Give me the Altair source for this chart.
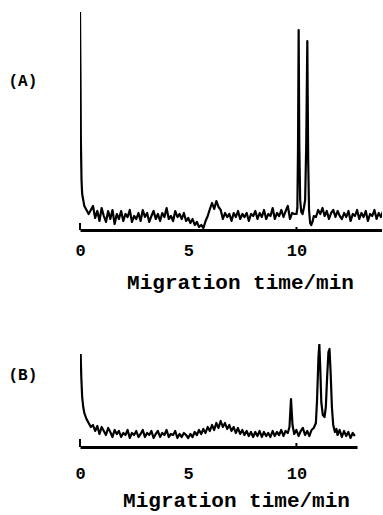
import altair as alt
import pandas as pd

FONT = "Liberation Mono"

# ---------------- Panel (A) ----------------
a_time = [0.0, 0.02, 0.04, 0.07, 0.1, 0.15, 0.2, 0.3, 0.4,
          0.5, 0.6, 0.7, 0.8, 0.9, 1.0, 1.1, 1.2, 1.3, 1.4, 1.5, 1.6, 1.7, 1.8, 1.9,
          2.0, 2.1, 2.2, 2.3, 2.4, 2.5, 2.6, 2.7, 2.8, 2.9, 3.0, 3.1, 3.2, 3.3, 3.4,
          3.5, 3.6, 3.7, 3.8, 3.9, 4.0, 4.1, 4.2, 4.3, 4.4, 4.5, 4.6, 4.7, 4.8, 4.9,
          5.0, 5.1, 5.2, 5.3, 5.4, 5.5, 5.6, 5.7, 5.8, 5.9, 6.0, 6.1, 6.2, 6.3, 6.4,
          6.5, 6.6, 6.7, 6.8, 6.9, 7.0, 7.1, 7.2, 7.3, 7.4, 7.5, 7.6, 7.7, 7.8, 7.9,
          8.0, 8.1, 8.2, 8.3, 8.4, 8.5, 8.6, 8.7, 8.8, 8.9, 9.0, 9.1, 9.2, 9.3, 9.4,
          9.5, 9.6, 9.7, 9.8, 9.9,
          10.0, 10.04, 10.07, 10.1, 10.13, 10.17, 10.22, 10.28, 10.34, 10.4, 10.45,
          10.5, 10.54, 10.58, 10.63, 10.68, 10.75, 10.8,
          10.9, 11.0, 11.1, 11.2, 11.3, 11.4, 11.5, 11.6, 11.7, 11.8, 11.9, 12.0,
          12.1, 12.2, 12.3, 12.4, 12.5, 12.6, 12.7, 12.8, 12.9, 13.0, 13.1, 13.2,
          13.3, 13.4, 13.5, 13.6, 13.7, 13.8, 13.9, 14.0]
a_signal = [218, 160, 90, 50, 36, 30, 24, 20, 16,
            20, 24, 12, 19, 9, 22, 14, 8, 19, 11, 20, 6, 16, 11, 19,
            9, 16, 13, 20, 8, 14, 11, 17, 9, 20, 13, 17, 8, 14, 19,
            11, 16, 9, 17, 13, 22, 11, 14, 9, 19, 13, 16, 11, 17, 9,
            12, 7, 11, 5, 8, 3, 5, 2, 9, 14, 21, 27, 21, 29, 23,
            20, 11, 17, 13, 16, 9, 17, 13, 19, 11, 16, 13, 17, 9, 16,
            14, 19, 11, 17, 13, 20, 11, 16, 14, 22, 11, 17, 14, 20, 13,
            19, 24, 11, 17, 16,
            16, 22, 80, 200, 85, 30, 18, 16, 22, 30, 85,
            189, 70, 20, 7, 5, 9, 14,
            13, 20, 16, 22, 14, 19, 11, 17, 20, 13, 19, 14,
            11, 17, 13, 19, 9, 16, 14, 20, 11, 17, 13, 19,
            9, 16, 14, 20, 11, 17, 13, 19]

a_tick_time = [0, 10]
a_tick_top = [7, 3]

# ---------------- Panel (B) ----------------
b_time = [0.03, 0.06, 0.1, 0.15, 0.2, 0.3, 0.4, 0.5, 0.6, 0.7,
          0.8, 0.9, 1.0, 1.1, 1.2, 1.3, 1.4, 1.5, 1.6, 1.7, 1.8, 1.9,
          2.0, 2.1, 2.2, 2.3, 2.4, 2.5, 2.6, 2.7, 2.8, 2.9, 3.0, 3.1, 3.2, 3.3, 3.4,
          3.5, 3.6, 3.7, 3.8, 3.9, 4.0, 4.1, 4.2, 4.3, 4.4, 4.5, 4.6, 4.7, 4.8, 4.9,
          5.0, 5.1, 5.2, 5.3, 5.4, 5.5, 5.6, 5.7, 5.8, 5.9, 6.0, 6.1, 6.2, 6.3, 6.4,
          6.5, 6.6, 6.7, 6.8, 6.9, 7.0, 7.1, 7.2, 7.3, 7.4, 7.5, 7.6, 7.7, 7.8, 7.9,
          8.0, 8.1, 8.2, 8.3, 8.4, 8.5, 8.6, 8.7, 8.8, 8.9, 9.0, 9.1, 9.2, 9.3, 9.4,
          9.5, 9.6, 9.68, 9.75, 9.82, 9.9, 10.0, 10.1, 10.2, 10.3, 10.4, 10.5, 10.6,
          10.7, 10.8, 10.9, 10.95, 11.02, 11.06, 11.1, 11.15, 11.22, 11.3, 11.36,
          11.42, 11.48, 11.53, 11.58, 11.64, 11.7, 11.78, 11.85, 11.9, 12.0, 12.1,
          12.2, 12.3, 12.4, 12.5, 12.6, 12.7]
b_signal = [93, 70, 50, 40, 34, 28, 24, 20, 22, 16,
            21, 13, 20, 16, 12, 19, 15, 10, 17, 13, 16, 10,
            14, 12, 17, 9, 14, 12, 16, 10, 13, 17, 10, 14, 12, 16, 9,
            13, 16, 10, 14, 12, 17, 10, 13, 12, 16, 9, 13, 10, 14, 12,
            9, 13, 10, 15, 12, 17, 13, 18, 14, 20, 16, 22, 17, 24, 19,
            26, 20, 24, 18, 22, 16, 20, 14, 19, 13, 17, 12, 16, 11, 15,
            10, 15, 11, 16, 10, 15, 11, 14, 10, 16, 11, 15, 12, 17, 11,
            16, 14, 20, 48, 22, 13, 17, 11, 16, 19, 12, 16, 11,
            17, 19, 24, 45, 90, 103, 80, 45, 32, 30, 40,
            70, 95, 98, 75, 40, 22, 15, 18, 12, 17, 10,
            16, 11, 15, 9, 14, 11]

b_tick_time = [0, 10]
b_tick_top = [8, 4]

tick_values = [0, 5, 10]
x_title = "Migration time/min"


def panel(times, signals, tick_t, tick_top, label, xmax, width, height, ymax,
          label_y, label_pad, title_x, title_y):
    df = pd.DataFrame({"time": times, "signal": signals})
    tdf = pd.DataFrame({"time": tick_t, "y0": [0] * len(tick_t), "y1": tick_top})
    xscale = alt.Scale(domain=[0, xmax], nice=False, zero=False)
    yscale = alt.Scale(domain=[0, ymax], nice=False, zero=True)
    xaxis = alt.Axis(
        values=tick_values, title=x_title, grid=False, ticks=False,
        domain=True, domainColor="black", domainWidth=3,
        labelFont=FONT, labelFontSize=17, labelFontWeight="bold",
        labelColor="black", labelPadding=label_pad, labelFlush=False,
        titleFont=FONT, titleFontSize=21, titleFontWeight="bold",
        titleColor="black", titleX=title_x, titleY=title_y,
        titleAlign="center", titleBaseline="alphabetic",
    )
    yaxis = alt.Axis(
        title=label, domain=False, ticks=False, labels=False, grid=False,
        titleAngle=0, titleAlign="left", titleBaseline="middle",
        titleX=-72, titleY=label_y, titleFont=FONT, titleFontSize=16,
        titleFontWeight="bold", titleColor="black",
    )
    line = alt.Chart(df).mark_line(
        color="black", strokeWidth=2.2, clip=True, strokeJoin="round"
    ).encode(
        x=alt.X("time:Q", scale=xscale, axis=xaxis),
        y=alt.Y("signal:Q", scale=yscale, axis=yaxis),
    )
    ticks = alt.Chart(tdf).mark_rule(color="black", strokeWidth=2).encode(
        x=alt.X("time:Q", scale=xscale),
        y=alt.Y("y0:Q", scale=yscale),
        y2="y1:Q",
    )
    return alt.layer(line, ticks).properties(width=width, height=height)


top = panel(a_time, a_signal, a_tick_time, a_tick_top, "(A)",
            13.95, 302, 220, 220, 70, 12, 160, 58)
bottom = panel(b_time, b_signal, b_tick_time, b_tick_top, "(B)",
               12.8, 277, 103, 103, 30, 18, 156, 59)

chart = alt.vconcat(top, bottom, spacing=52).properties(
    padding={"left": 8, "top": 10, "right": 0, "bottom": 4},
    background="white",
).configure_view(stroke=None)

chart.save("out.html", embed_options={"renderer": "svg", "actions": False})
